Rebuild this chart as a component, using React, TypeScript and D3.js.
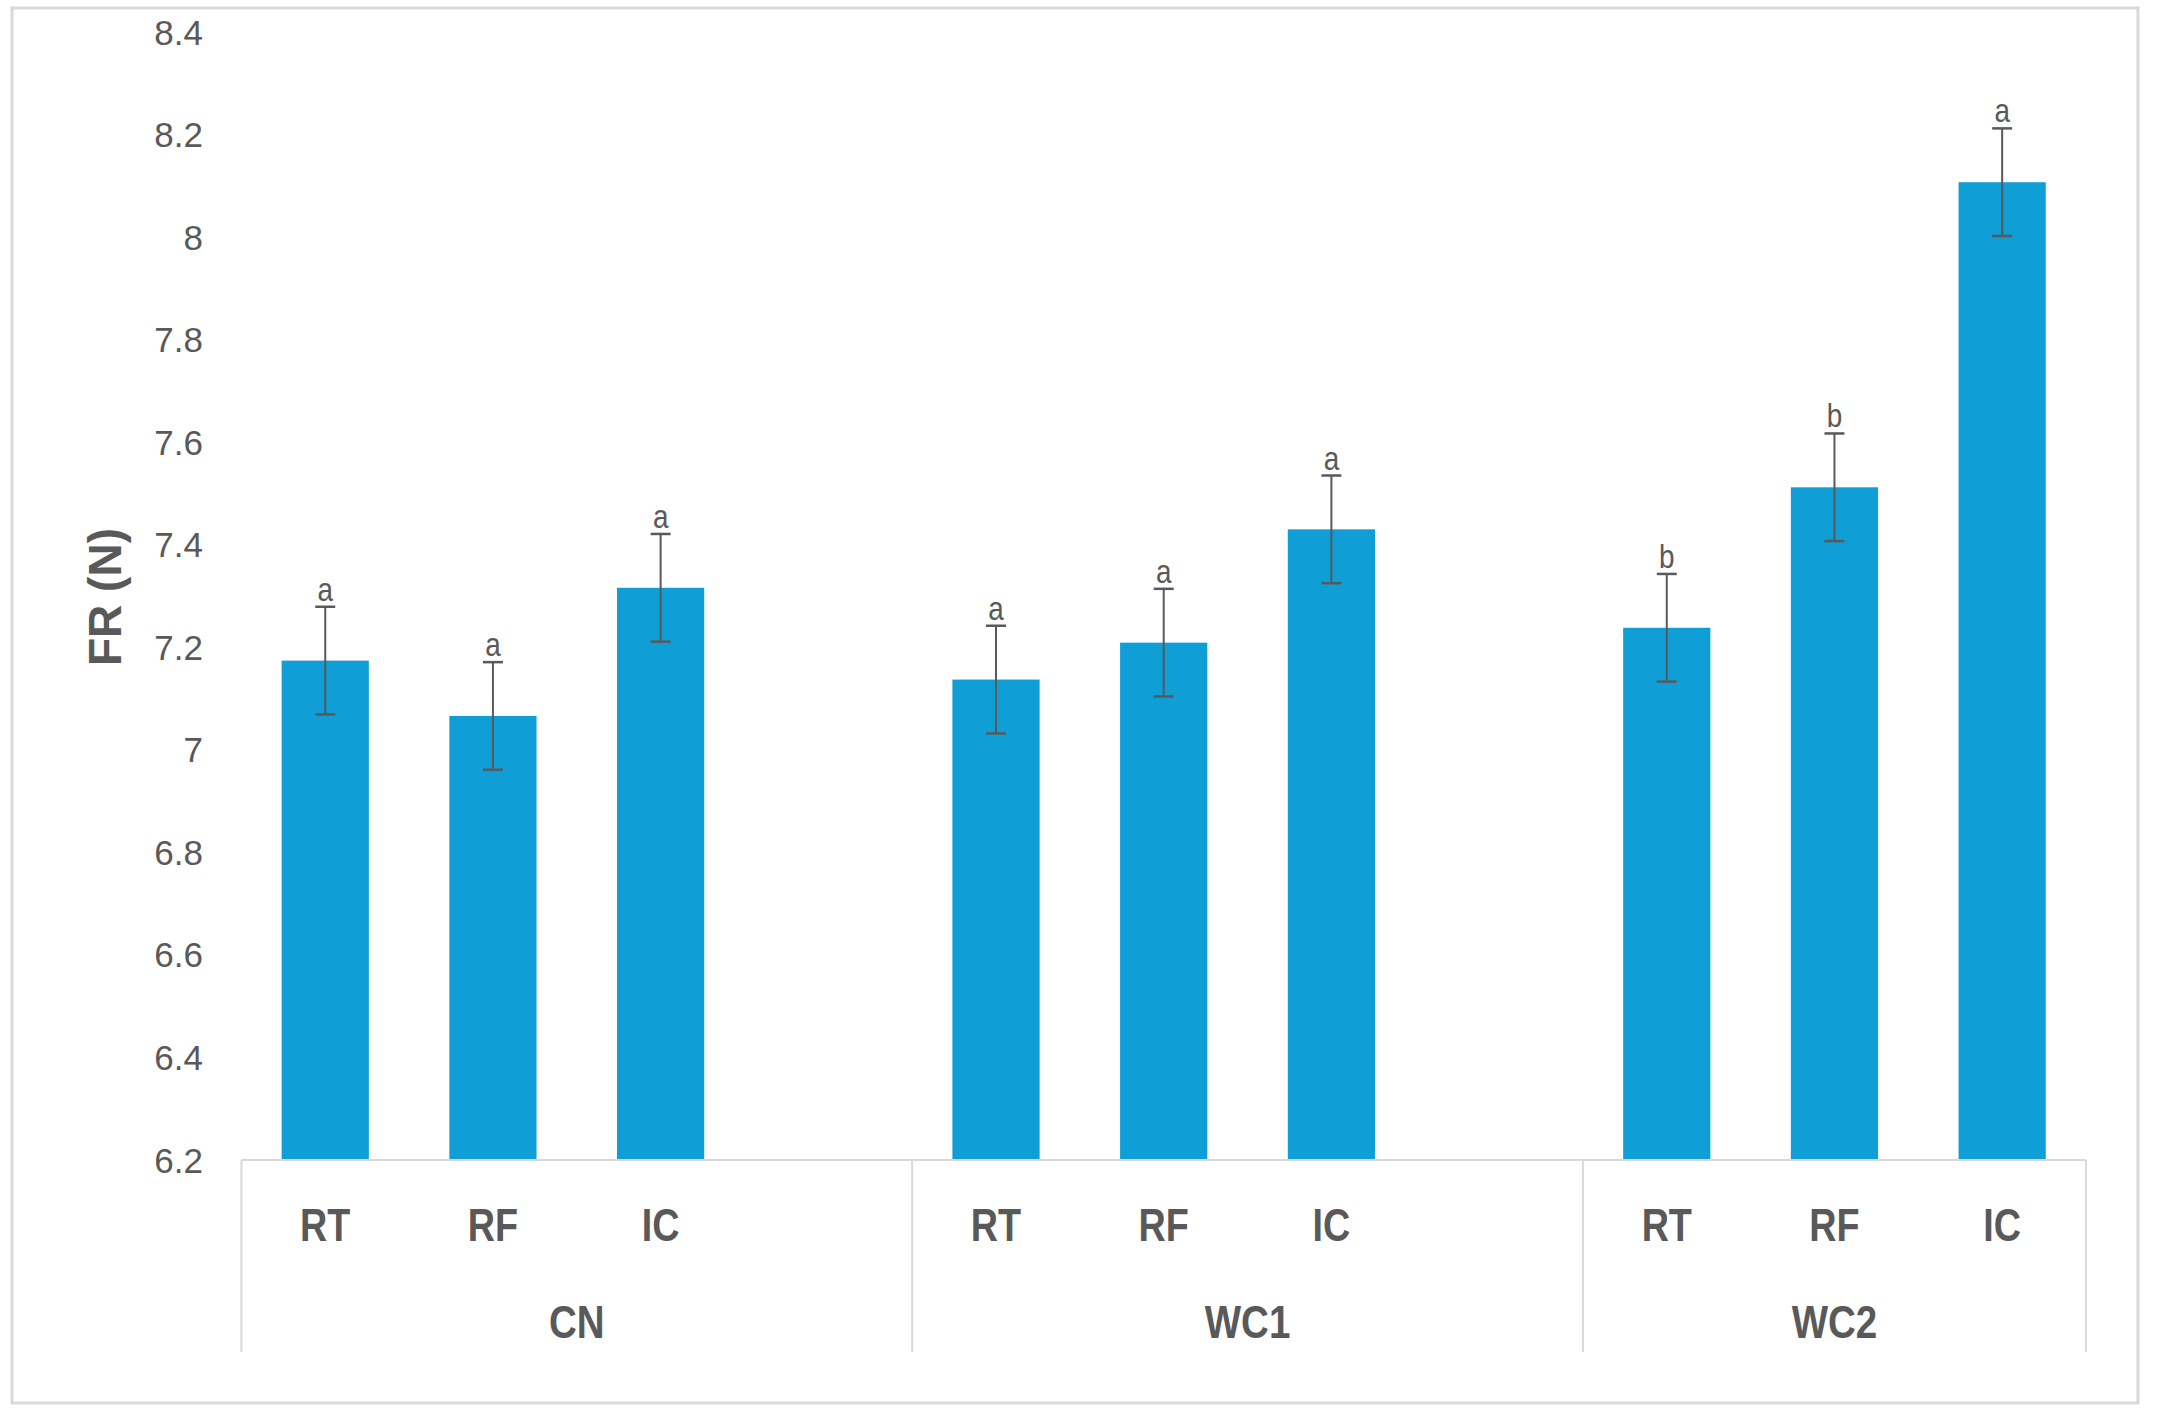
import React from "react";
import * as d3 from "d3";

const groups = ["CN", "WC1", "WC2"];
const treatments = ["RT", "RF", "IC"];
const cnMeans = [7.174, 7.066, 7.316];
const wc1Means = [7.137, 7.209, 7.43];
const wc2Means = [7.238, 7.512, 8.107];
const cnErr = [0.105, 0.105, 0.105];
const wc1Err = [0.105, 0.105, 0.105];
const wc2Err = [0.105, 0.105, 0.105];
const cnLetters = ["a", "a", "a"];
const wc1Letters = ["a", "a", "a"];
const wc2Letters = ["b", "b", "a"];
const yTicks = [6.2, 6.4, 6.6, 6.8, 7, 7.2, 7.4, 7.6, 7.8, 8, 8.2, 8.4];

const W = 2163;
const H = 1421;
const BAR = "#0F9ED5";
const TXT = "#595959";
const GRID = "#d9d9d9";
const SANS = "'Liberation Sans', Arial, sans-serif";
const NARROW_SCALE = 0.82;

function NarrowText(props: {
  x: number;
  y: number;
  size: number;
  bold?: boolean;
  children: React.ReactNode;
}) {
  return (
    <text
      transform={`translate(${props.x}, ${props.y}) scale(${NARROW_SCALE}, 1)`}
      textAnchor="middle"
      fontFamily={SANS}
      fontWeight={props.bold ? "bold" : "normal"}
      fontSize={props.size}
      fill={TXT}
    >
      {props.children}
    </text>
  );
}

export default function App() {
  const meansBy = [cnMeans, wc1Means, wc2Means];
  const errBy = [cnErr, wc1Err, wc2Err];
  const lettersBy = [cnLetters, wc1Letters, wc2Letters];

  const slots: string[] = [];
  groups.forEach((g, gi) => {
    treatments.forEach((t) => slots.push(g + "|" + t));
    if (gi < groups.length - 1) slots.push(g + "|blank");
  });

  const r0 = 241.4;
  const x = d3
    .scaleBand<string>()
    .domain(slots)
    .range([r0, 2086])
    .paddingInner(0.48)
    .paddingOuter(0.24);
  const step = x.step();
  const y = d3.scaleLinear().domain([6.2, 8.4]).range([1160, 32]);
  const axisY = y(6.2);
  const boxBottom = 1352;

  const bars: any[] = [];
  groups.forEach((g, gi) => {
    treatments.forEach((t, ti) => {
      bars.push({
        key: g + "|" + t,
        group: g,
        t,
        v: meansBy[gi][ti],
        e: errBy[gi][ti],
        l: lettersBy[gi][ti],
      });
    });
  });

  const groupRanges = groups.map((g) => {
    const idx = slots.map((s, i) => (s.startsWith(g + "|") ? i : -1)).filter((i) => i >= 0);
    return { g, start: idx[0], end: idx[idx.length - 1] + 1 };
  });
  const boundaries = Array.from(new Set(groupRanges.flatMap((r) => [r.start, r.end])));

  return (
    <svg
      width={W}
      height={H}
      style={{ position: "absolute", left: 0, top: 0, background: "#fff" }}
      xmlns="http://www.w3.org/2000/svg"
    >
      <rect x={0} y={0} width={W} height={H} fill="#fff" />
      <rect x={12} y={8} width={2126} height={1395} fill="none" stroke={GRID} strokeWidth={3} />

      {yTicks.map((t) => (
        <text
          key={t}
          x={203}
          y={y(t) + 12.5}
          textAnchor="end"
          fontFamily={SANS}
          fontSize={35}
          fill={TXT}
        >
          {d3.format("~g")(t)}
        </text>
      ))}

      <text
        transform={`translate(121, 597) rotate(-90)`}
        textAnchor="middle"
        fontFamily={SANS}
        fontWeight="bold"
        fontSize={46}
        fill={TXT}
      >
        FR (N)
      </text>

      {bars.map((b) => (
        <rect
          key={b.key}
          x={x(b.key)}
          y={y(b.v)}
          width={x.bandwidth()}
          height={axisY - y(b.v)}
          fill={BAR}
        />
      ))}

      <line x1={r0} x2={r0 + step * slots.length} y1={axisY} y2={axisY} stroke={GRID} strokeWidth={2} />
      {boundaries.map((i) => (
        <line
          key={"b" + i}
          x1={r0 + i * step}
          x2={r0 + i * step}
          y1={axisY}
          y2={boxBottom}
          stroke={GRID}
          strokeWidth={2}
        />
      ))}

      {bars.map((b) => {
        const cx = (x(b.key) as number) + x.bandwidth() / 2;
        const yt = y(b.v + b.e);
        const yb = y(b.v - b.e);
        return (
          <g key={"e" + b.key} stroke={TXT}>
            <line x1={cx} x2={cx} y1={yt} y2={yb} strokeWidth={2} />
            <line x1={cx - 10} x2={cx + 10} y1={yt} y2={yt} strokeWidth={2.5} />
            <line x1={cx - 10} x2={cx + 10} y1={yb} y2={yb} strokeWidth={2.5} />
          </g>
        );
      })}

      {bars.map((b) => (
        <NarrowText
          key={"l" + b.key}
          x={(x(b.key) as number) + x.bandwidth() / 2}
          y={y(b.v + b.e) - 6}
          size={34}
        >
          {b.l}
        </NarrowText>
      ))}

      {bars.map((b) => (
        <NarrowText
          key={"t" + b.key}
          x={(x(b.key) as number) + x.bandwidth() / 2}
          y={1241}
          size={46}
          bold
        >
          {b.t}
        </NarrowText>
      ))}

      {groupRanges.map((r) => (
        <NarrowText key={"g" + r.g} x={r0 + ((r.start + r.end) / 2) * step} y={1338} size={47} bold>
          {r.g}
        </NarrowText>
      ))}
    </svg>
  );
}
